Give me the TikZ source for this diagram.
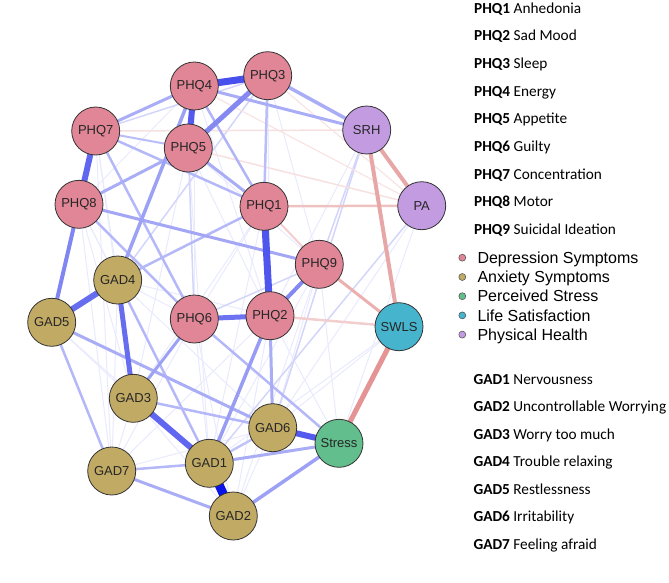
\documentclass[tikz,border=0pt]{standalone}
\usepackage{fontspec}
\setmainfont{Liberation Sans}
\newfontfamily\calfont{Carlito}
\pgfdeclarelayer{bg}
\pgfsetlayers{bg,main}
\definecolor{bl}{RGB}{10,20,230}
\definecolor{rd}{RGB}{205,60,60}
\definecolor{cphq}{RGB}{224,134,150}
\definecolor{cgad}{RGB}{193,170,100}
\definecolor{cstr}{RGB}{98,190,140}
\definecolor{cswl}{RGB}{70,180,205}
\definecolor{cph}{RGB}{195,155,225}
\tikzset{
  nd/.style={circle,draw=black!80,line width=0.8pt,minimum size=48pt,inner sep=0pt,
    font=\fontsize{13}{13}\selectfont,text=black!85},
  phq/.style={nd,fill=cphq},
  gad/.style={nd,fill=cgad},
  pe/.style 2 args={line width=#1pt,draw=bl!#2!white},
  ne/.style 2 args={line width=#1pt,draw=rd!#2!white},
  ldot/.style={circle,draw=black!70,line width=0.5pt,minimum size=7pt,inner sep=0pt},
  itm/.style={anchor=base west,inner sep=0pt,font=\calfont\fontsize{15.3}{15.3}\selectfont},
  grp/.style={anchor=base west,inner sep=0pt,font=\fontsize{16}{16}\selectfont},
}
\begin{document}
\begin{tikzpicture}[x=1pt,y=-1pt]
\useasboundingbox (0,0) rectangle (669,582);
% nodes
\node[phq] (PHQ4) at (194.3,86) {PHQ4};
\node[phq] (PHQ3) at (267.7,75.7) {PHQ3};
\node[phq] (PHQ7) at (95.7,131) {PHQ7};
\node[phq] (PHQ5) at (188.3,148) {PHQ5};
\node[nd,fill=cph] (SRH) at (366.7,130) {SRH};
\node[nd,fill=cph] (PA) at (421.7,205.7) {PA};
\node[phq] (PHQ8) at (79,204.3) {PHQ8};
\node[phq] (PHQ1) at (264,206.3) {PHQ1};
\node[phq] (PHQ9) at (319.3,264.3) {PHQ9};
\node[gad] (GAD4) at (117.7,280) {GAD4};
\node[gad] (GAD5) at (51.7,322.3) {GAD5};
\node[phq] (PHQ6) at (194.3,319) {PHQ6};
\node[phq] (PHQ2) at (270,315.7) {PHQ2};
\node[nd,fill=cswl] (SWLS) at (399,326.7) {SWLS};
\node[gad] (GAD3) at (133.3,398.3) {GAD3};
\node[gad] (GAD6) at (272.7,427.7) {GAD6};
\node[nd,fill=cstr] (Stress) at (339,443.3) {Stress};
\node[gad] (GAD7) at (111.7,471) {GAD7};
\node[gad] (GAD1) at (209.3,463.3) {GAD1};
\node[gad] (GAD2) at (233.3,516) {GAD2};

\begin{pgfonlayer}{bg}
% very faint edges
\foreach \a/\b in {PHQ7/GAD4,PHQ7/GAD5,PHQ7/GAD3,PHQ8/GAD4,PHQ8/GAD3,PHQ8/GAD7,PHQ5/GAD3,
  PHQ5/PHQ2,PHQ5/PHQ9,PHQ4/PHQ6,PHQ3/PHQ2,PHQ3/PHQ9,PHQ4/PHQ8,PHQ1/PHQ6,PHQ1/GAD6,PHQ9/GAD6,
  PHQ9/Stress,PHQ9/GAD1,GAD4/PHQ6,GAD4/PHQ2,GAD4/GAD6,GAD5/GAD3,GAD5/GAD1,GAD3/GAD7,GAD3/GAD2,
  GAD3/Stress,GAD7/PHQ6,GAD7/PHQ2,GAD7/GAD6,GAD6/GAD2,GAD1/PHQ6,GAD2/PHQ2,GAD2/PHQ6,GAD2/PHQ9,
  Stress/PHQ2,SWLS/GAD6,SWLS/GAD1,PA/GAD6,PA/Stress,SRH/PHQ2,PHQ1/GAD3,PHQ5/GAD1,PHQ1/GAD1,
  PHQ7/GAD7,PHQ4/PHQ2,PHQ8/GAD1,GAD4/GAD7}
  \draw[pe={1}{9}] (\a.center) -- (\b.center);
% light edges
\foreach \a/\b in {SRH/GAD6,SRH/PHQ9,PA/GAD1,PHQ3/GAD4,PHQ5/PHQ6,PHQ6/PHQ9,PHQ3/PHQ7}
  \draw[pe={1.5}{18}] (\a.center) -- (\b.center);
% negative edges
\draw[ne={1.2}{14}] (PHQ4.center) -- (PA.center);
\draw[ne={1.2}{14}] (PHQ3.center) -- (PA.center);
\draw[ne={1.5}{16}] (PHQ7.center) -- (SRH.center);
\draw[ne={1.5}{16}] (PHQ5.center) -- (PA.center);
\draw[ne={2}{25}] (PHQ1.center) -- (PHQ9.center);
\draw[ne={2.5}{25}] (PHQ2.center) -- (SWLS.center);
\draw[ne={2.5}{32}] (PHQ1.center) -- (PA.center);
\draw[ne={3}{40}] (PHQ9.center) -- (SWLS.center);
\draw[ne={4}{45}] (SRH.center) -- (PA.center);
\draw[ne={4}{45}] (SRH.center) -- (SWLS.center);
\draw[ne={5}{55}] (SWLS.center) -- (Stress.center);
% medium positive edges
\draw[pe={2}{28}] (PHQ7.center) -- (PHQ5.center);
\draw[pe={2.5}{30}] (PHQ7.center) -- (PHQ1.center);
\draw[pe={2.5}{30}] (PHQ7.center) -- (PHQ6.center);
\draw[pe={2.5}{30}] (PHQ8.center) -- (PHQ6.center);
\draw[pe={2.5}{32}] (PHQ4.center) -- (PHQ1.center);
\draw[pe={2.5}{28}] (PHQ3.center) -- (PHQ1.center);
\draw[pe={2.5}{30}] (GAD4.center) -- (PHQ1.center);
\draw[pe={2.5}{30}] (GAD4.center) -- (GAD1.center);
\draw[pe={2.5}{30}] (GAD5.center) -- (GAD7.center);
\draw[pe={2.5}{30}] (GAD3.center) -- (GAD6.center);
\draw[pe={2.5}{30}] (PHQ6.center) -- (Stress.center);
\draw[pe={2.5}{30}] (GAD7.center) -- (GAD1.center);
\draw[pe={2.5}{25}] (GAD1.center) -- (GAD6.center);
\draw[pe={3}{35}] (PHQ4.center) -- (PHQ7.center);
\draw[pe={3}{35}] (PHQ4.center) -- (SRH.center);
\draw[pe={3.5}{35}] (PHQ3.center) -- (SRH.center);
\draw[pe={3}{35}] (PHQ5.center) -- (PHQ1.center);
\draw[pe={3}{35}] (PHQ5.center) -- (PHQ8.center);
\draw[pe={3}{38}] (PHQ8.center) -- (PHQ9.center);
\draw[pe={3.5}{40}] (PHQ4.center) -- (GAD4.center);
\draw[pe={3}{35}] (GAD5.center) -- (GAD6.center);
\draw[pe={3}{40}] (PHQ6.center) -- (GAD3.center);
\draw[pe={3}{35}] (PHQ2.center) -- (GAD6.center);
\draw[pe={3.5}{42}] (PHQ2.center) -- (GAD1.center);
\draw[pe={3}{35}] (GAD1.center) -- (Stress.center);
\draw[pe={3}{35}] (GAD7.center) -- (GAD2.center);
\draw[pe={3.5}{40}] (GAD2.center) -- (Stress.center);
\draw[pe={4}{52}] (PHQ8.center) -- (GAD5.center);
\draw[pe={4}{50}] (PHQ9.center) -- (PHQ2.center);
% strong positive edges
\draw[pe={5}{50}] (PHQ3.center) -- (PHQ5.center);
\draw[pe={5}{60}] (PHQ6.center) -- (PHQ2.center);
\draw[pe={5}{62}] (GAD4.center) -- (GAD3.center);
\draw[pe={6}{62}] (GAD4.center) -- (GAD5.center);
\draw[pe={6}{65}] (PHQ7.center) -- (PHQ8.center);
\draw[pe={6}{65}] (GAD3.center) -- (GAD1.center);
\draw[pe={6}{70}] (PHQ4.center) -- (PHQ5.center);
\draw[pe={6}{70}] (GAD6.center) -- (Stress.center);
\draw[pe={7}{72}] (PHQ1.center) -- (PHQ2.center);
\draw[pe={7}{75}] (PHQ4.center) -- (PHQ3.center);
\draw[pe={9}{100}] (GAD1.center) -- (GAD2.center);
\end{pgfonlayer}

% legend: PHQ items
\node[itm] (i1) at (474,13.3) {\textbf{PHQ1} Anhedonia};
\node[itm] (i2) at (474,40.95) {\textbf{PHQ2} Sad Mood};
\node[itm] (i3) at (474,68.6) {\textbf{PHQ3} Sleep};
\node[itm] (i4) at (474,96.25) {\textbf{PHQ4} Energy};
\node[itm] (i5) at (474,123.9) {\textbf{PHQ5} Appetite};
\node[itm] (i6) at (474,151.55) {\textbf{PHQ6} Guilty};
\node[itm] (i7) at (474,179.2) {\textbf{PHQ7} Concentration};
\node[itm] (i8) at (474,206.85) {\textbf{PHQ8} Motor};
\node[itm] (i9) at (474,234.5) {\textbf{PHQ9} Suicidal Ideation};
% legend: groups
\node[ldot,fill=cphq] (d1) at (462.3,257.7) {};
\node[ldot,fill=cgad] (d2) at (462.3,277) {};
\node[ldot,fill=cstr] (d3) at (462.3,296.2) {};
\node[ldot,fill=cswl] (d4) at (462.3,315.4) {};
\node[ldot,fill=cph] (d5) at (462.3,334.6) {};
\node[grp] (g1) at (477.3,263.3) {Depression Symptoms};
\node[grp] (g2) at (477.3,282.6) {Anxiety Symptoms};
\node[grp] (g3) at (477.3,301.8) {Perceived Stress};
\node[grp] (g4) at (477.3,321) {Life Satisfaction};
\node[grp] (g5) at (477.3,340.2) {Physical Health};
% legend: GAD items
\node[itm] (j1) at (473.3,384) {\textbf{GAD1} Nervousness};
\node[itm] (j2) at (473.3,411.5) {\textbf{GAD2} Uncontrollable Worrying};
\node[itm] (j3) at (473.3,439) {\textbf{GAD3} Worry too much};
\node[itm] (j4) at (473.3,466.5) {\textbf{GAD4} Trouble relaxing};
\node[itm] (j5) at (473.3,494) {\textbf{GAD5} Restlessness};
\node[itm] (j6) at (473.3,521.5) {\textbf{GAD6} Irritability};
\node[itm] (j7) at (473.3,549) {\textbf{GAD7} Feeling afraid};
\end{tikzpicture}
\end{document}
